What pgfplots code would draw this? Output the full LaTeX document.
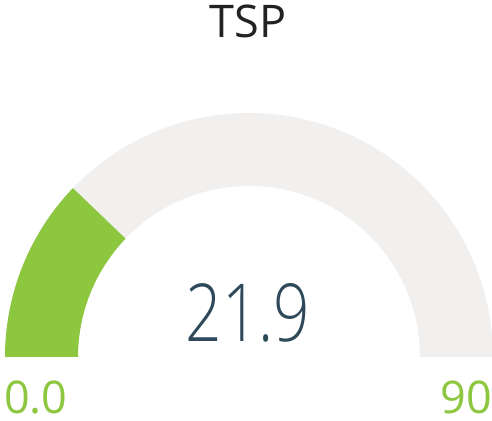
\documentclass[border=0pt]{standalone}
\usepackage{fontspec}
\setmainfont{Open Sans}
\newfontfamily\valfont[FakeStretch=0.8]{Open Sans Light}
\usepackage{pgfplots}
\pgfplotsset{compat=1.18}
\definecolor{gaugegreen}{HTML}{8DC63F}
\definecolor{gaugegray}{HTML}{F1F0EF}
\definecolor{valuecol}{HTML}{2E4A5A}
\definecolor{titlecol}{HTML}{222222}
% gauge data
\def\gmin{0}
\def\gmax{90}
\def\gval{21.9}
\begin{document}
\begin{tikzpicture}
\pgfmathsetmacro{\gang}{180-180*(\gval-\gmin)/(\gmax-\gmin)}
\begin{axis}[width=492pt, height=420pt, scale only axis,
  xmin=0, xmax=492, ymin=0, ymax=420, hide axis, clip=false,
  disabledatascaling]
% background band
\fill[gaugegray] (axis cs:249,63) ++(180:244pt) arc[start angle=180, end angle=0, radius=244pt]
  -- ([shift={(0:171pt)}]axis cs:249,63) arc[start angle=0, end angle=180, radius=171pt] -- cycle;
% value band
\fill[gaugegreen] (axis cs:249,63) ++(180:244pt) arc[start angle=180, end angle=\gang, radius=244pt]
  -- ([shift={(\gang:171pt)}]axis cs:249,63) arc[start angle=\gang, end angle=180, radius=171pt] -- cycle;
\node[anchor=base, inner sep=0, text=titlecol, font=\fontsize{45}{50}\selectfont] at (axis cs:248,382) {TSP};
\node[anchor=base, inner sep=0, text=valuecol, font=\valfont\fontsize{80}{90}\selectfont] at (axis cs:248,78) {21.9};
\node[anchor=base west, inner sep=0, text=gaugegreen, font=\fontsize{45}{50}\selectfont] at (axis cs:4,7) {0.0};
\node[anchor=base east, inner sep=0, text=gaugegreen, font=\fontsize{45}{50}\selectfont] at (axis cs:492,7) {90};
\end{axis}
\pgfresetboundingbox
\path (current axis.south west) rectangle (current axis.north east);
\end{tikzpicture}
\end{document}
